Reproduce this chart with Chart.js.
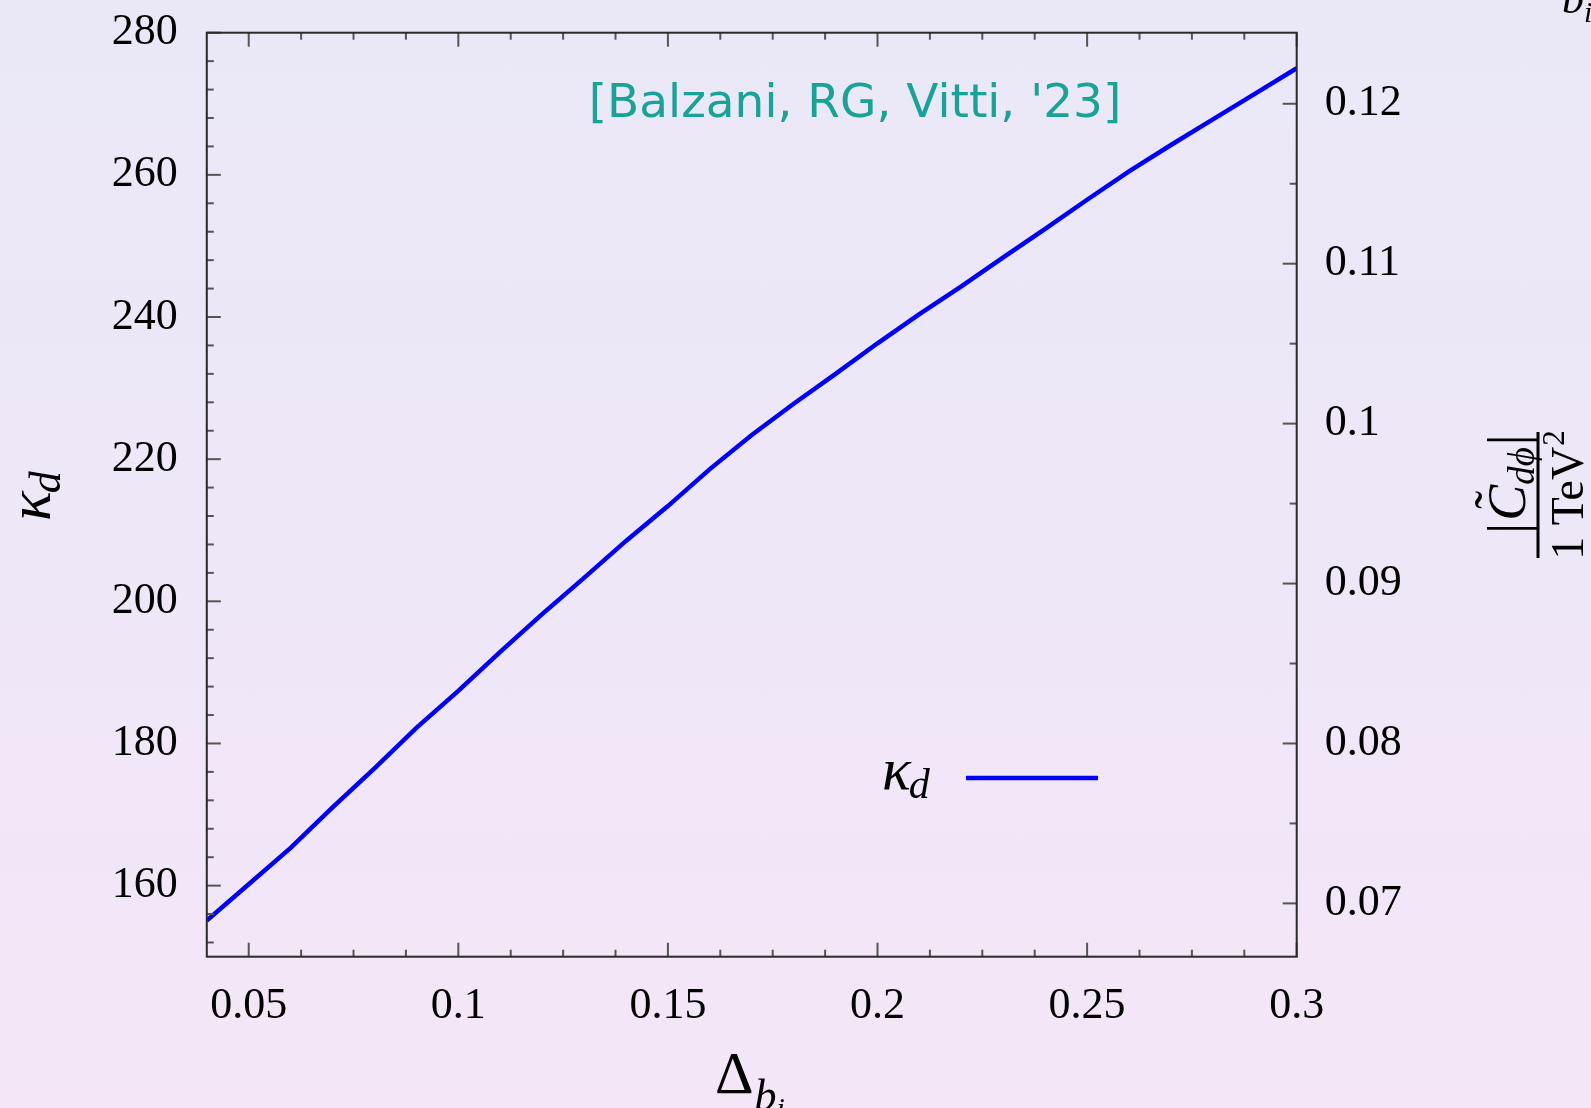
<!DOCTYPE html>
<html><head><meta charset="utf-8">
<script src="https://cdn.jsdelivr.net/npm/chart.js@4.4.0/dist/chart.umd.min.js"></script>
<style>
html,body{margin:0;padding:0;}
body{width:1591px;height:1108px;overflow:hidden;background:linear-gradient(to bottom,#EAE8F7 0%,#EEE7F7 50%,#F4E6F7 100%);}
#wrap{position:relative;width:1591px;height:1108px;}
</style></head><body>
<div id="wrap"><canvas id="c"></canvas></div>
<script>
// ---- data ----
const deltaValues = [0.04,0.05,0.06,0.07,0.08,0.09,0.10,0.11,0.12,0.13,0.14,0.15,0.16,0.17,0.18,0.19,0.20,0.21,0.22,0.23,0.24,0.25,0.26,0.27,0.28,0.29,0.30];
const kappaValues = [155.1,160.2,165.3,171.0,176.5,182.2,187.4,192.9,198.2,203.3,208.5,213.4,218.6,223.4,227.8,232.0,236.3,240.4,244.3,248.4,252.4,256.5,260.5,264.2,267.8,271.4,275.0];
const xTickValues = [0.05,0.1,0.15,0.2,0.25,0.3];
const xTickLabels = ['0.05','0.1','0.15','0.2','0.25','0.3'];
const yTickValues = [160,180,200,220,240,260,280];
const yTickLabels = ['160','180','200','220','240','260','280'];
const y2TickValues = [0.07,0.08,0.09,0.10,0.11,0.12];
const y2TickLabels = ['0.07','0.08','0.09','0.1','0.11','0.12'];
const xRange = [0.04, 0.3];
const kappaRange = [150, 280];
const cPerKappa = 1/2250;  // right axis |C| per unit of kappa_d

const serif = "'Liberation Serif','DejaVu Serif',serif";

function richRun(ctx, parts, x, y){
  let cx = x;
  for (const p of parts){
    ctx.font = p.font;
    ctx.fillText(p.text, cx, y + (p.dy||0));
    cx += ctx.measureText(p.text).width + (p.gap||0);
  }
  return cx;
}
function runWidth(ctx, parts){
  let w=0; for (const p of parts){ ctx.font=p.font; w += ctx.measureText(p.text).width + (p.gap||0);} return w;
}

const decor = {
  id:'decor',
  afterDatasetsDraw(chart){
    const ctx = chart.ctx;
    const {left,right,top,bottom} = chart.chartArea;
    const xs = chart.scales.x, ys = chart.scales.y, y2s = chart.scales.y2;
    ctx.save();
    // ticks
    ctx.strokeStyle = '#555';
    ctx.lineWidth = 2;
    const line = (a,b,c,d)=>{ctx.beginPath();ctx.moveTo(a,b);ctx.lineTo(c,d);ctx.stroke();};
    for (let i=0;i<=20;i++){
      const v = 0.05 + i*0.0125;
      const px = xs.getPixelForValue(v);
      const L = (i%4===0)?14:7;
      line(px,bottom,px,bottom-L);
      line(px,top,px,top+L);
    }
    for (let i=-2;i<=30;i++){
      const v = 160 + i*4;
      const py = ys.getPixelForValue(v);
      const L = (i%5===0)?14:7;
      line(left,py,left+L,py);
    }
    for (let i=0;i<=10;i++){
      const v = 0.07 + i*0.005;
      if (v > y2s.max) continue;
      const py = y2s.getPixelForValue(v);
      const L = (i%2===0)?14:7;
      line(right,py,right-L,py);
    }
    // frame
    ctx.strokeStyle = '#2a2a2a';
    ctx.lineWidth = 2;
    ctx.strokeRect(left,top,right-left,bottom-top);

    ctx.fillStyle = '#000';
    ctx.textBaseline = 'alphabetic';
    ctx.textAlign = 'left';

    // bottom axis title: Delta_{b_i}
    richRun(ctx,[
      {text:'Δ', font:`60px ${serif}`, gap:1},
      {text:'b', font:`italic 44px ${serif}`, dy:17, gap:0},
      {text:'i', font:`italic 30px ${serif}`, dy:25}
    ], 715, 1093);

    // left axis title: kappa_d (rotated)
    ctx.save();
    ctx.rotate(-Math.PI/2);
    richRun(ctx,[
      {text:'κ', font:`italic 62px ${serif}`, gap:-2},
      {text:'d', font:`italic 44px ${serif}`, dy:10}
    ], -521, 50);
    ctx.restore();

    // right axis title: |C~_{d phi}| / 1 TeV^2 (rotated)
    ctx.save();
    ctx.rotate(-Math.PI/2);
    const num = [
      {text:'|', font:`54px ${serif}`, gap:2},
      {text:'C', font:`italic 54px ${serif}`, gap:0},
      {text:'dϕ', font:`italic 37px ${serif}`, dy:9, gap:2},
      {text:'|', font:`54px ${serif}`}
    ];
    const nw = runWidth(ctx,num);
    const nStart = -484 - nw/2;
    richRun(ctx,num,nStart,1525);
    // tilde over C
    ctx.font = `54px ${serif}`;
    const barW = ctx.measureText('|').width + 2;
    ctx.fillText('˜', nStart + barW + 12, 1525 - 13);
    const den = [
      {text:'1 TeV', font:`46px ${serif}`, gap:1},
      {text:'2', font:`31px ${serif}`, dy:-19}
    ];
    const dw = runWidth(ctx,den);
    richRun(ctx,den,-495 - dw/2,1583);
    ctx.fillRect(-558,1536.5,126,3);
    ctx.restore();

    // clipped text at the top right
    richRun(ctx,[
      {text:'b', font:`italic 44px ${serif}`, gap:0},
      {text:'i', font:`italic 30px ${serif}`, dy:9}
    ], 1562, 13);

    // legend
    richRun(ctx,[
      {text:'κ', font:`italic 60px ${serif}`, gap:-2},
      {text:'d', font:`italic 42px ${serif}`, dy:9}
    ], 882, 789);
    ctx.strokeStyle = '#0000FF';
    ctx.lineWidth = 4.5;
    line(966,778,1098,778);

    // annotation
    ctx.fillStyle = '#17A395';
    ctx.textAlign = 'center';
    ctx.font = `47px 'DejaVu Sans', sans-serif`;
    ctx.fillText("[Balzani, RG, Vitti, '23]", 855, 117, 545);
    ctx.restore();
  }
};

const tickFont = {family:"'Liberation Serif','DejaVu Serif',serif", size:44};
const noPad = s => { s.paddingTop = 0; s.paddingBottom = 0; s.paddingLeft = 0; s.paddingRight = 0; };

new Chart(document.getElementById('c'), {
  type:'line',
  data:{
    datasets:[{
      label:'κd',
      data: deltaValues.map((x,i)=>({x:x, y:kappaValues[i]})),
      borderColor:'#0000FF',
      borderWidth:4.5,
      pointRadius:0,
      tension:0,
      fill:false,
      yAxisID:'y',
      xAxisID:'x'
    }]
  },
  options:{
    responsive:true,
    maintainAspectRatio:false,
    animation:false,
    layout:{padding:{top:32.7,left:0,right:0,bottom:0}},
    plugins:{legend:{display:false}, tooltip:{enabled:false}},
    scales:{
      x:{
        type:'linear', position:'bottom', min:xRange[0], max:xRange[1],
        grid:{display:false, drawTicks:false}, border:{display:false},
        afterBuildTicks:s=>{ s.ticks = xTickValues.map(v=>({value:v})); },
        afterFit:s=>{ s.height = 1108 - 956.7; noPad(s); },
        ticks:{font:tickFont, color:'#000', padding:23, maxRotation:0, autoSkip:false,
          callback:(v,i)=>xTickLabels[i]}
      },
      y:{
        type:'linear', position:'left', min:kappaRange[0], max:kappaRange[1],
        grid:{display:false, drawTicks:false}, border:{display:false},
        afterBuildTicks:s=>{ s.ticks = yTickValues.map(v=>({value:v})); },
        afterFit:s=>{ s.width = 206.8; noPad(s); },
        ticks:{font:tickFont, color:'#000', padding:29, autoSkip:false,
          callback:(v,i)=>yTickLabels[i]}
      },
      y2:{
        type:'linear', position:'right', display:true,
        min:kappaRange[0]*cPerKappa, max:kappaRange[1]*cPerKappa,
        grid:{display:false, drawTicks:false}, border:{display:false},
        afterBuildTicks:s=>{ s.ticks = y2TickValues.map(v=>({value:v})); },
        afterFit:s=>{ s.width = 1591 - 1296.7; noPad(s); },
        ticks:{font:tickFont, color:'#000', padding:28, autoSkip:false,
          callback:(v,i)=>y2TickLabels[i]}
      }
    }
  },
  plugins:[decor]
});
</script>
</body></html>
